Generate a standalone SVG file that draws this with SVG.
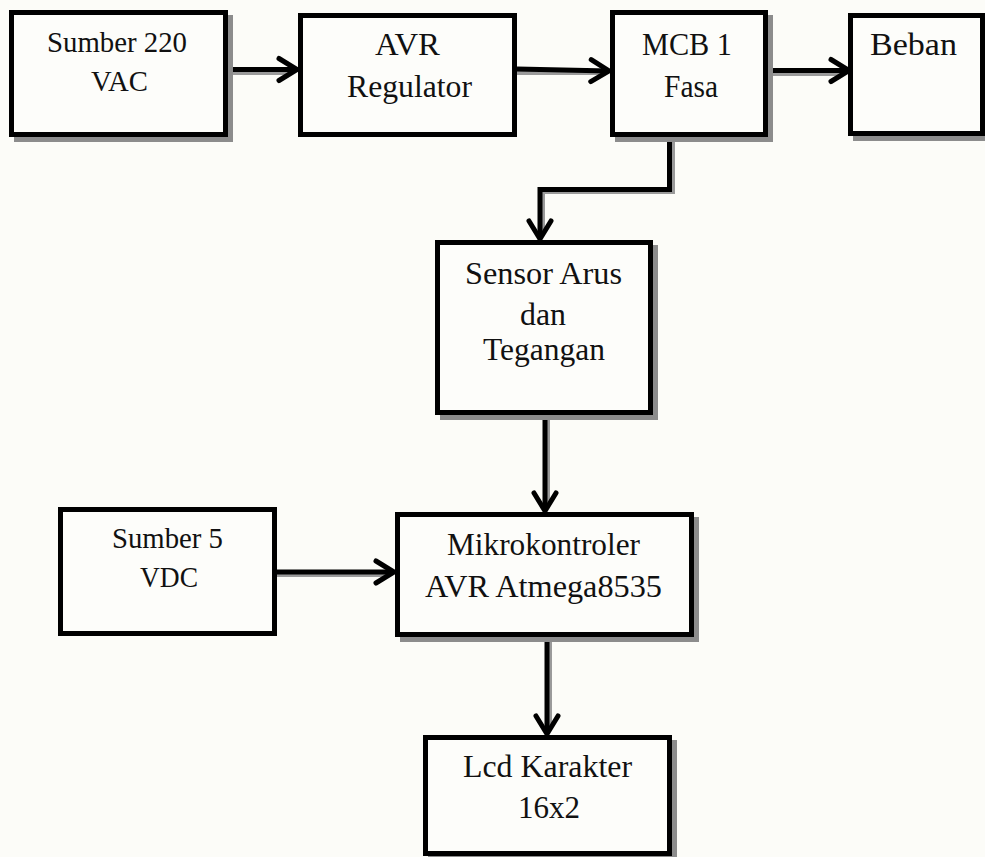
<svg xmlns="http://www.w3.org/2000/svg" width="985" height="857" viewBox="0 0 985 857" font-family="'Liberation Serif', serif">
<defs>
<style>
.box{fill:#fdfdfa;stroke:#000;stroke-width:5}
.sh{fill:none;stroke:#8c8c8c;stroke-width:5}
text{font-family:'Liberation Serif',serif;font-size:31px;fill:#111}
.edge{fill:none;stroke:#000;stroke-width:5;marker-end:url(#arr)}
.esh{fill:none;stroke:#9a9a9a;stroke-width:4}
</style>
<marker id="arr" markerUnits="userSpaceOnUse" markerWidth="40" markerHeight="40" viewBox="-30 -20 40 40" refX="0" refY="0" orient="auto" overflow="visible">
<path d="M-18,-11 L0,0 L-18,11" fill="none" stroke="#000" stroke-width="5" stroke-linecap="round" stroke-linejoin="miter"/>
</marker>
</defs>
<rect width="985" height="857" fill="#fcfcf8"/>

<g id="connectors">
<path class="esh" d="M228,73 H293"/>
<path class="edge" d="M228,69.5 H297"/>
<path class="esh" d="M517,73 H605"/>
<path class="edge" d="M517,69 L609,71"/>
<path class="esh" d="M768,74 H845"/>
<path class="edge" d="M768,70.5 H849"/>
<path class="esh" d="M673,140 V192 H543 V235"/>
<path class="edge" d="M669.5,137 V189.5 H540 V239"/>
<path class="esh" d="M548,415 V507"/>
<path class="edge" d="M545,415 V511"/>
<path class="esh" d="M277,575 H390"/>
<path class="edge" d="M277,572 H394"/>
<path class="esh" d="M550,640 V730"/>
<path class="edge" d="M547,637 V734"/>
</g>

<g id="sumber220">
<rect class="sh" x="16.5" y="17.5" width="214" height="122"/>
<rect class="box" x="11.5" y="12.5" width="214" height="122"/>
<text x="47" y="52" textLength="140" lengthAdjust="spacingAndGlyphs" style="font-size:30px">Sumber 220</text>
<text x="91" y="91" textLength="57" lengthAdjust="spacingAndGlyphs" style="font-size:30px">VAC</text>
</g>

<g id="avr">
<rect class="box" x="300.5" y="15.5" width="214" height="119"/>
<text x="375" y="55" textLength="65" lengthAdjust="spacingAndGlyphs">AVR</text>
<text x="347" y="97" textLength="125" lengthAdjust="spacingAndGlyphs">Regulator</text>
</g>

<g id="mcb">
<rect class="sh" x="617.5" y="17.5" width="153" height="122"/>
<rect class="box" x="612.5" y="12.5" width="153" height="122"/>
<text x="642" y="55" textLength="90" lengthAdjust="spacingAndGlyphs">MCB 1</text>
<text x="664" y="97" textLength="54" lengthAdjust="spacingAndGlyphs">Fasa</text>
</g>

<g id="beban">
<rect class="sh" x="855.5" y="20.5" width="133" height="118"/>
<rect class="box" x="850.5" y="15.5" width="132" height="118"/>
<text x="870" y="55" textLength="87" lengthAdjust="spacingAndGlyphs">Beban</text>
</g>

<g id="sensor">
<rect class="sh" x="442.5" y="247.5" width="213" height="170"/>
<rect class="box" x="437.5" y="242.5" width="213" height="170"/>
<text x="465" y="284" textLength="157" lengthAdjust="spacingAndGlyphs">Sensor Arus</text>
<text x="520" y="325" textLength="46" lengthAdjust="spacingAndGlyphs">dan</text>
<text x="483" y="360" textLength="122" lengthAdjust="spacingAndGlyphs">Tegangan</text>
</g>

<g id="sumber5">
<rect class="box" x="60.5" y="509.5" width="214" height="124"/>
<text x="112" y="548" textLength="111" lengthAdjust="spacingAndGlyphs" style="font-size:30px">Sumber 5</text>
<text x="140" y="587" textLength="58" lengthAdjust="spacingAndGlyphs" style="font-size:30px">VDC</text>
</g>

<g id="mikro">
<rect class="sh" x="402.5" y="519.5" width="294" height="120"/>
<rect class="box" x="397.5" y="514.5" width="294" height="120"/>
<text x="447" y="555" textLength="193" lengthAdjust="spacingAndGlyphs" style="font-size:32px">Mikrokontroler</text>
<text x="425" y="597" textLength="237" lengthAdjust="spacingAndGlyphs" style="font-size:32px">AVR Atmega8535</text>
</g>

<g id="lcd">
<rect class="sh" x="430.5" y="742.5" width="244" height="116"/>
<rect class="box" x="425.5" y="737.5" width="244" height="116"/>
<text x="463" y="777" textLength="169" lengthAdjust="spacingAndGlyphs">Lcd Karakter</text>
<text x="518" y="818" textLength="62" lengthAdjust="spacingAndGlyphs">16x2</text>
</g>
</svg>
